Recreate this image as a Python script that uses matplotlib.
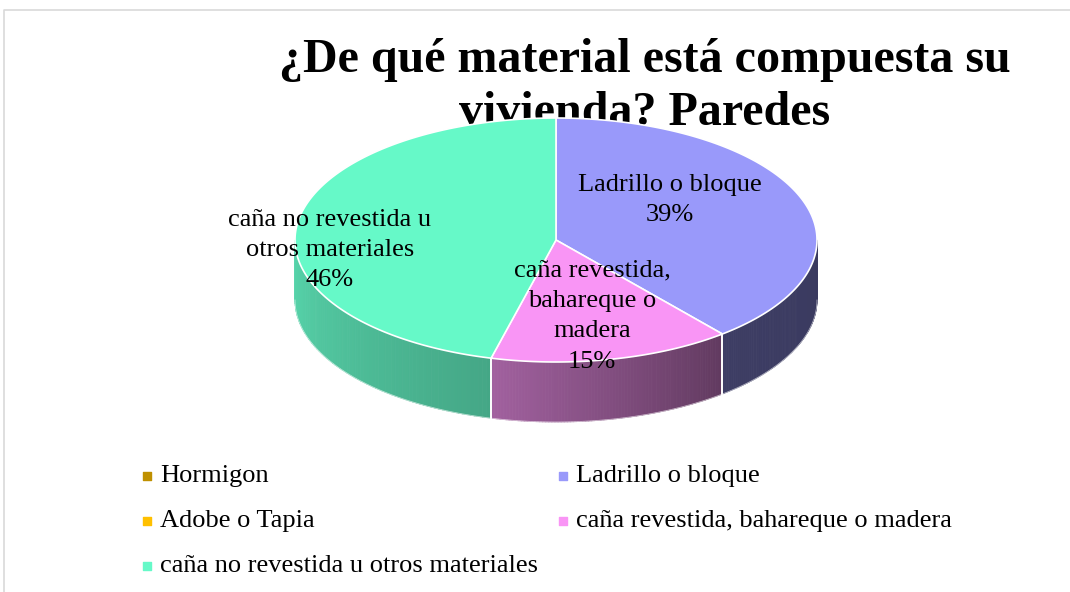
import numpy as np
import matplotlib
matplotlib.use("Agg")
import matplotlib.pyplot as plt
from matplotlib.collections import PolyCollection
from matplotlib.patches import Polygon

# ---- data ----
categories = ["Hormigon", "Ladrillo o bloque", "Adobe o Tapia",
              "caña revestida, bahareque o madera",
              "caña no revestida u otros materiales"]
values = [0, 39, 0, 15, 46]
slice_labels = ["", "Ladrillo o bloque\n39%", "",
                "caña revestida,\nbahareque o\nmadera\n15%",
                "caña no revestida u\notros materiales\n46%"]

# ---- styles ----
top_colors = ["#BF9000", "#9999FA", "#FFC000", "#F995F5", "#66F9C8"]
side_shade = [(0.5, 0.4), (0.40, 0.38), (0.5, 0.4), (0.65, 0.39), (0.86, 0.67)]
label_pos = [None, (670, 200), None, (592, 316), (330, 250)]
FONT = "Liberation Serif"

W, H = 1070, 592
fig = plt.figure(figsize=(W / 100, H / 100), dpi=100)
ax = fig.add_axes([0, 0, 1, 1])
ax.set_xlim(0, W)
ax.set_ylim(H, 0)
ax.axis("off")

# border
ax.plot([4, 4, W + 5], [H + 5, 10, 10], color="#D9D9D9", lw=1.2, zorder=0)

# title (behind pie)
ax.text(645, 72, "¿De qué material está compuesta su", ha="center", va="baseline",
        fontsize=34.6, fontweight="bold", family=FONT, zorder=1)
ax.text(645, 125, "vivienda? Paredes", ha="center", va="baseline",
        fontsize=34.6, fontweight="bold", family=FONT, zorder=1)

# pie geometry
cx, cy, rx, ry, depth = 556, 240, 261, 122, 60


def top_pt(t):
    return cx + rx * np.cos(np.radians(t)), cy - ry * np.sin(np.radians(t))


total = float(sum(values))
angles = []
start = 90.0
for v in values:
    end = start - v / total * 360.0
    angles.append((start, end))
    start = end

# side walls (front half: angle in [-180, 0])
for i, (a1, a0) in enumerate(angles):
    if values[i] == 0:
        continue
    for shift in (-360, 0, 360):
        lo = max(a0 + shift, -180.0)
        hi = min(a1 + shift, 0.0)
        if hi <= lo:
            continue
        n = 80
        ts = np.linspace(lo, hi, n + 1)
        polys, cols = [], []
        base = np.array(matplotlib.colors.to_rgb(top_colors[i]))
        fl, fr = side_shade[i]
        for k in range(n):
            ta, tb = ts[k], ts[k + 1]
            xa, ya = top_pt(ta)
            xb, yb = top_pt(tb)
            polys.append([(xa, ya), (xb, yb), (xb, yb + depth), (xa, ya + depth)])
            frac = (k + 0.5) / n
            f = fl + (fr - fl) * frac
            cols.append(np.clip(base * f, 0, 1))
        pc = PolyCollection(polys, facecolors=cols, edgecolors=cols, linewidths=0.6, zorder=2)
        ax.add_collection(pc)
        bx = [top_pt(t)[0] for t in ts]
        by = [top_pt(t)[1] + depth for t in ts]
        ax.plot(bx, by, color="white", lw=0.6, zorder=3, alpha=0.6)
        for t in (lo, hi):
            if t in (-180.0, 0.0):
                continue
            x, y = top_pt(t)
            ax.plot([x, x], [y, y + depth], color="white", lw=1.2, zorder=3)

# top wedges
for i, (a1, a0) in enumerate(angles):
    if values[i] == 0:
        continue
    ts = np.linspace(a1, a0, 200)
    pts = [(cx, cy)] + [top_pt(t) for t in ts]
    ax.add_patch(Polygon(pts, closed=True, facecolor=top_colors[i],
                         edgecolor="white", lw=1.2, zorder=4))

# slice labels
for i, lab in enumerate(slice_labels):
    if not lab:
        continue
    x, y = label_pos[i]
    ax.text(x, y, lab, ha="center", va="center", fontsize=19, family=FONT,
            linespacing=1.5, zorder=6)

# legend (two columns, row-major)
leg_x = [147, 563]
leg_y = [476, 521, 566]
for j, cat in enumerate(categories):
    r, c = divmod(j, 2)
    ax.scatter([leg_x[c]], [leg_y[r]], marker="s", s=28, color=top_colors[j], zorder=6)
    ax.text(leg_x[c] + 13, leg_y[r], cat, ha="left", va="center", fontsize=19,
            family=FONT, zorder=6)

fig.savefig("out.png", dpi=100, facecolor="white")
